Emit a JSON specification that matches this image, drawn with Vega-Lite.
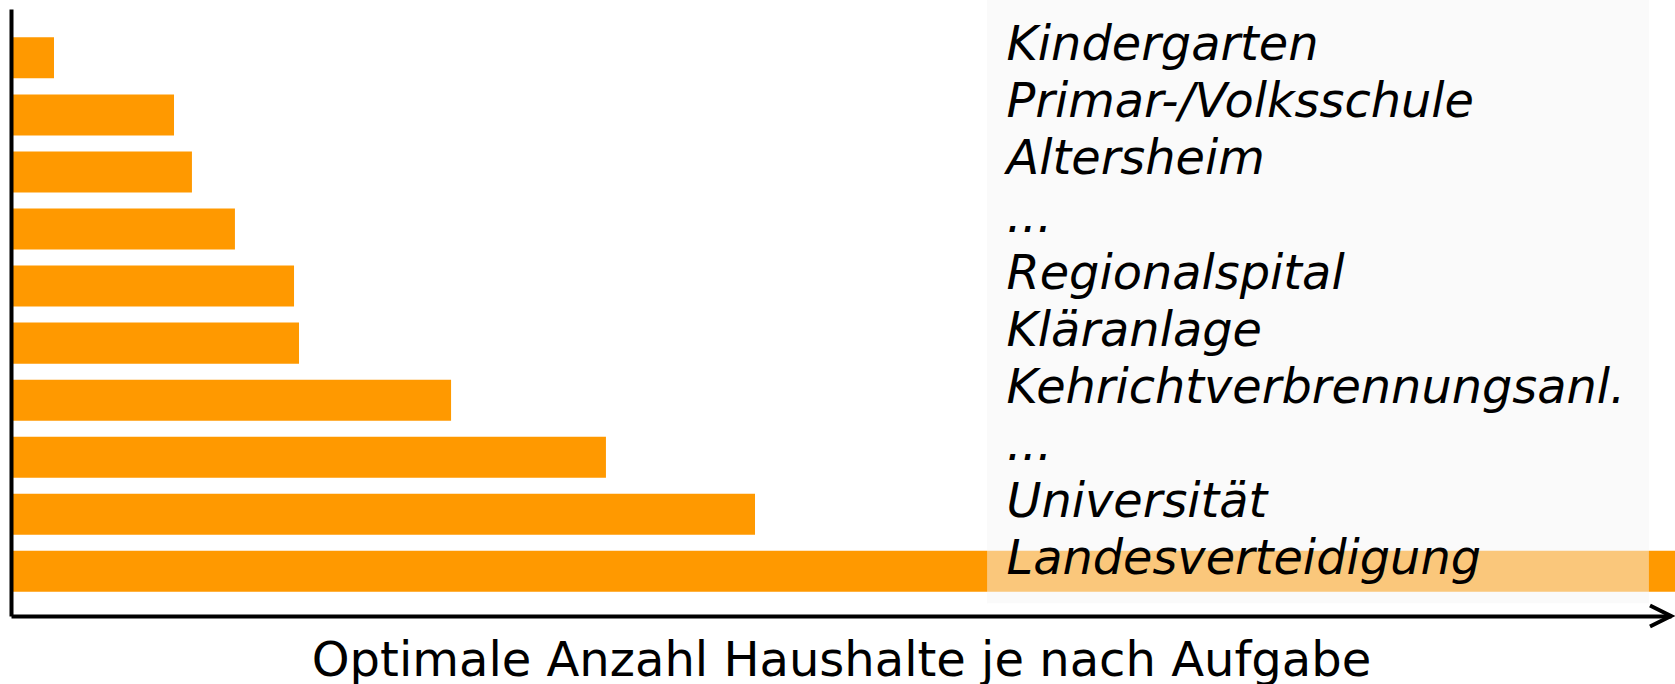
{
  "$schema": "https://vega.github.io/schema/vega-lite/v6.json",
  "width": 1660,
  "height": 607,
  "autosize": {"type": "none"},
  "padding": {"left": 11, "top": 9, "right": 4, "bottom": 68},
  "background": "white",
  "config": {"view": {"stroke": null}},
  "data": {
    "values": [
      {"rang": 1, "aufgabe": "Kindergarten", "haushalte": 2.59},
      {"rang": 2, "aufgabe": "Primar-/Volksschule", "haushalte": 9.82},
      {"rang": 3, "aufgabe": "Altersheim", "haushalte": 10.9},
      {"rang": 4, "aufgabe": "...", "haushalte": 13.49},
      {"rang": 5, "aufgabe": "Regionalspital", "haushalte": 17.05},
      {"rang": 6, "aufgabe": "Kläranlage", "haushalte": 17.35},
      {"rang": 7, "aufgabe": "Kehrichtverbrennungsanl.", "haushalte": 26.51},
      {"rang": 8, "aufgabe": "...", "haushalte": 35.84},
      {"rang": 9, "aufgabe": "Universität", "haushalte": 44.82},
      {"rang": 10, "aufgabe": "Landesverteidigung", "haushalte": 101}
    ]
  },
  "layer": [
    {
      "mark": {"type": "bar", "color": "#ff9900"},
      "encoding": {
        "y": {
          "field": "rang",
          "type": "ordinal",
          "sort": "ascending",
          "scale": {"type": "band", "paddingInner": 0.281, "paddingOuter": 0.46, "align": 0.54},
          "axis": {"labels": false, "ticks": false, "title": null, "domainColor": "black", "domainWidth": 4, "zindex": 1}
        },
        "x": {
          "field": "haushalte",
          "type": "quantitative",
          "scale": {"domain": [0, 100], "nice": false, "zero": true},
          "axis": {
            "labels": false,
            "ticks": false,
            "grid": false,
            "title": "Optimale Anzahl Haushalte je nach Aufgabe",
            "titleFont": "DejaVu Sans",
            "titleFontSize": 48,
            "titleFontWeight": "normal",
            "titleColor": "black",
            "titlePadding": 21,
            "domainColor": "black",
            "domainWidth": 4,
            "zindex": 1
          }
        }
      }
    },
    {
      "data": {"values": [{}]},
      "mark": {"type": "rect", "fill": "#f6f6f6", "opacity": 0.5},
      "encoding": {
        "x": {"datum": 58.8, "type": "quantitative"},
        "x2": {"datum": 98.67},
        "y": {"datum": 1.015, "type": "quantitative", "scale": {"domain": [0, 1], "nice": false, "zero": false}, "axis": null},
        "y2": {"datum": 0.021}
      }
    },
    {
      "mark": {
        "type": "text",
        "font": "DejaVu Sans",
        "fontStyle": "italic",
        "fontSize": 47.8,
        "align": "left",
        "baseline": "alphabetic",
        "dy": 2.5,
        "color": "black"
      },
      "encoding": {
        "y": {
          "field": "rang",
          "type": "ordinal",
          "sort": "ascending",
          "scale": {"type": "band", "paddingInner": 0.281, "paddingOuter": 0.46, "align": 0.54},
          "axis": null
        },
        "x": {"datum": 59.97, "type": "quantitative"},
        "text": {"field": "aufgabe"}
      }
    },
    {
      "data": {"values": [{}]},
      "mark": {
        "type": "point",
        "shape": "M -2 -1 L 0 0 L -2 1",
        "size": 441,
        "filled": false,
        "stroke": "black",
        "strokeWidth": 4,
        "opacity": 1,
        "strokeJoin": "miter"
      },
      "encoding": {
        "x": {"datum": 100, "type": "quantitative"},
        "y": {"datum": 0, "type": "quantitative", "scale": {"domain": [0, 1], "nice": false, "zero": false}, "axis": null}
      }
    }
  ],
  "resolve": {"scale": {"y": "independent"}}
}
